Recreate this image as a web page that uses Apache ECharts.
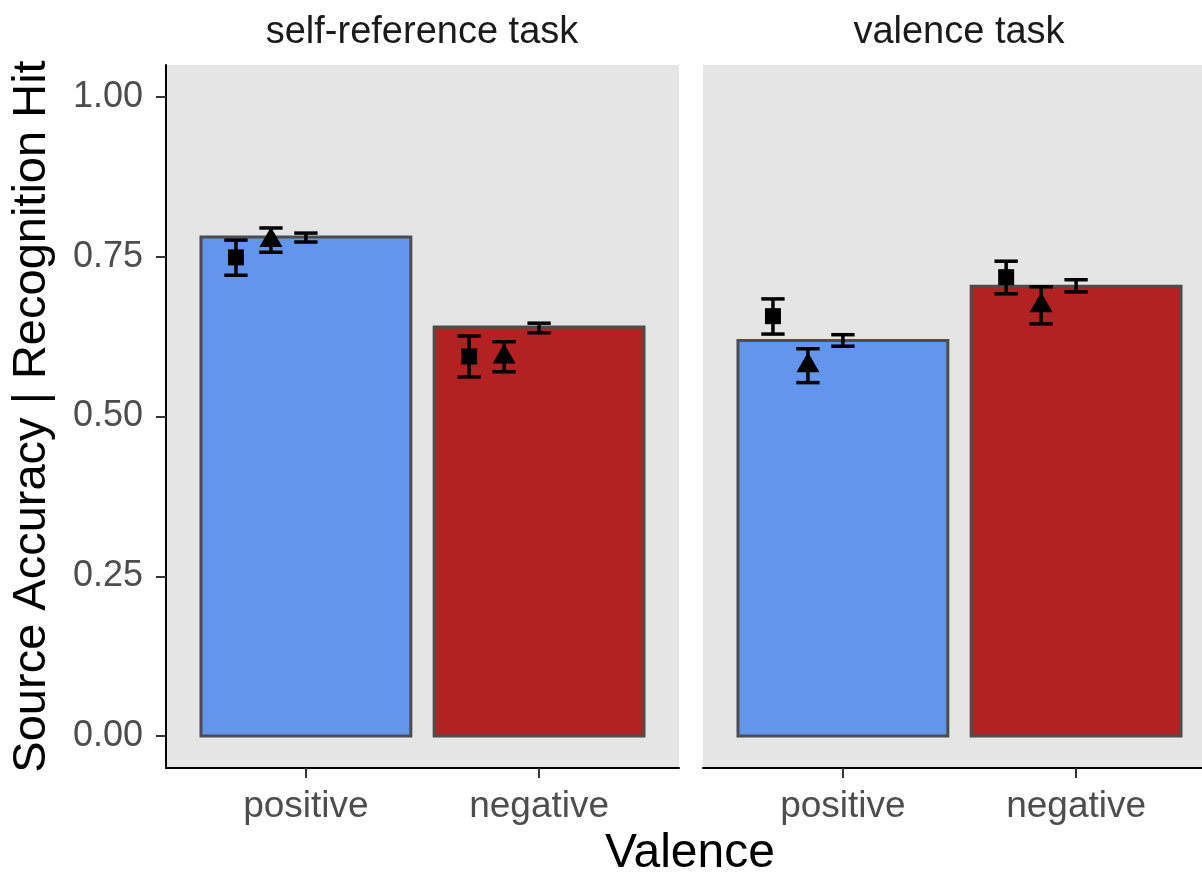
<!DOCTYPE html>
<html>
<head>
<meta charset="utf-8">
<script src="https://cdn.jsdelivr.net/npm/echarts@6/dist/echarts.min.js"></script>
<style>
  html, body { margin: 0; padding: 0; background: #fff; }
  #chart { width: 1202px; height: 876px; }
</style>
</head>
<body>
<div id="chart"></div>
<script>
// data
const valence = ['positive', 'negative'];
const tasks = ['self-reference task', 'valence task'];
const yTicks = [0, 0.25, 0.5, 0.75, 1];

// overall bar means, per task: [positive, negative]
const barMeans = [[0.781, 0.640], [0.619, 0.704]];
// square-marker group
const squareMean = [[0.749, 0.594], [0.657, 0.718]];
const squareLow = [[0.721, 0.562], [0.629, 0.692]];
const squareHigh = [[0.776, 0.626], [0.684, 0.743]];
// triangle-marker group
const triMean = [[0.776, 0.594], [0.580, 0.674]];
const triLow = [[0.757, 0.570], [0.553, 0.645]];
const triHigh = [[0.795, 0.617], [0.606, 0.703]];
// plain error bar on the bar top
const overallLow = [[0.773, 0.631], [0.610, 0.695]];
const overallHigh = [[0.787, 0.646], [0.628, 0.714]];

const FONT = '"Liberation Sans", Arial, Helvetica, sans-serif';
const barColors = ['#6495ED', '#B22222'];
const dodge = { square: -0.3, tri: -0.15, overall: 0 };
const capHalf = 0.05;

const chart = echarts.init(document.getElementById('chart'));

function barItem(params, api) {
  const x = api.value(0);
  const v = api.value(1);
  const p0 = api.coord([x - 0.45, v]);
  const p1 = api.coord([x + 0.45, 0]);
  return {
    type: 'rect',
    shape: { x: p0[0], y: p0[1], width: p1[0] - p0[0], height: p1[1] - p0[1] },
    style: { fill: barColors[Math.round(x) - 1], stroke: '#4D4D4D', lineWidth: 3 }
  };
}

function errItem(params, api) {
  const x = api.value(0);
  const lo = api.coord([x, api.value(1)]);
  const hi = api.coord([x, api.value(2)]);
  const l = api.coord([x - capHalf, 0])[0];
  const r = api.coord([x + capHalf, 0])[0];
  const st = { stroke: '#000', lineWidth: 3.5 };
  return {
    type: 'group',
    children: [
      { type: 'line', shape: { x1: lo[0], y1: lo[1], x2: hi[0], y2: hi[1] }, style: st },
      { type: 'line', shape: { x1: l, y1: lo[1], x2: r, y2: lo[1] }, style: st },
      { type: 'line', shape: { x1: l, y1: hi[1], x2: r, y2: hi[1] }, style: st }
    ]
  };
}

const grids = [];
const xAxes = [];
const yAxes = [];
const series = [];
const titles = [];
const panelLeft = [166, 703];

tasks.forEach(function (task, t) {
  grids.push({
    left: panelLeft[t], top: 65, width: 513, height: 703,
    show: true, backgroundColor: '#E5E5E5', borderWidth: 0,
    outerBoundsMode: 'none'
  });
  xAxes.push({
    type: 'value', gridIndex: t, min: 0.4, max: 2.6,
    splitLine: { show: false },
    axisLine: { show: true, onZero: false, lineStyle: { color: '#000', width: 2 } },
    axisTick: { show: true, customValues: [1, 2], length: 10, lineStyle: { color: '#333', width: 2 } },
    axisLabel: {
      customValues: [1, 2], margin: 20, color: '#4D4D4D', fontSize: 37, fontFamily: FONT,
      formatter: function (v) { return valence[Math.round(v) - 1]; }
    }
  });
  yAxes.push({
    type: 'value', gridIndex: t, min: -0.05, max: 1.05,
    splitLine: { show: false },
    name: t === 0 ? 'Source Accuracy | Recognition Hit' : '',
    nameLocation: 'middle', nameRotate: 90, nameGap: 110,
    nameTextStyle: { color: '#000', fontSize: 47, fontFamily: FONT },
    axisLine: { show: t === 0, lineStyle: { color: '#000', width: 2 } },
    axisTick: { show: t === 0, customValues: yTicks, length: 10, lineStyle: { color: '#333', width: 2 } },
    axisLabel: {
      show: t === 0, customValues: yTicks, margin: 23, color: '#4D4D4D', fontSize: 36, fontFamily: FONT,
      formatter: function (v) { return v.toFixed(2); }
    }
  });
  titles.push({
    text: task, left: panelLeft[t] + 256, top: 14, textAlign: 'center', padding: 0,
    textStyle: { color: '#1A1A1A', fontSize: 38, fontWeight: 'normal', fontFamily: FONT }
  });

  series.push({
    type: 'custom', xAxisIndex: t, yAxisIndex: t, renderItem: barItem,
    encode: { x: 0, y: 1 },
    data: valence.map(function (v, i) { return [i + 1, barMeans[t][i]]; }),
    z: 1
  });
  const groups = [
    { off: dodge.square, lo: squareLow, hi: squareHigh },
    { off: dodge.tri, lo: triLow, hi: triHigh },
    { off: dodge.overall, lo: overallLow, hi: overallHigh }
  ];
  groups.forEach(function (g) {
    series.push({
      type: 'custom', xAxisIndex: t, yAxisIndex: t, renderItem: errItem,
      encode: { x: 0, y: [1, 2] },
      data: valence.map(function (v, i) { return [i + 1 + g.off, g.lo[t][i], g.hi[t][i]]; }),
      z: 3
    });
  });
  series.push({
    type: 'scatter', xAxisIndex: t, yAxisIndex: t, symbol: 'rect', symbolSize: 16,
    itemStyle: { color: '#000', opacity: 1 },
    data: valence.map(function (v, i) { return [i + 1 + dodge.square, squareMean[t][i]]; }),
    z: 4
  });
  series.push({
    type: 'scatter', xAxisIndex: t, yAxisIndex: t, symbol: 'triangle', symbolSize: [23, 20],
    symbolOffset: [0, -3],
    itemStyle: { color: '#000', opacity: 1 },
    data: valence.map(function (v, i) { return [i + 1 + dodge.tri, triMean[t][i]]; }),
    z: 4
  });
});

titles.push({
  text: 'Valence', left: 690, top: 830, textAlign: 'center', padding: 0,
  textStyle: { color: '#000', fontSize: 48, fontWeight: 'normal', fontFamily: FONT }
});

chart.setOption({
  animation: false,
  title: titles,
  grid: grids,
  xAxis: xAxes,
  yAxis: yAxes,
  series: series
});
</script>
</body>
</html>
